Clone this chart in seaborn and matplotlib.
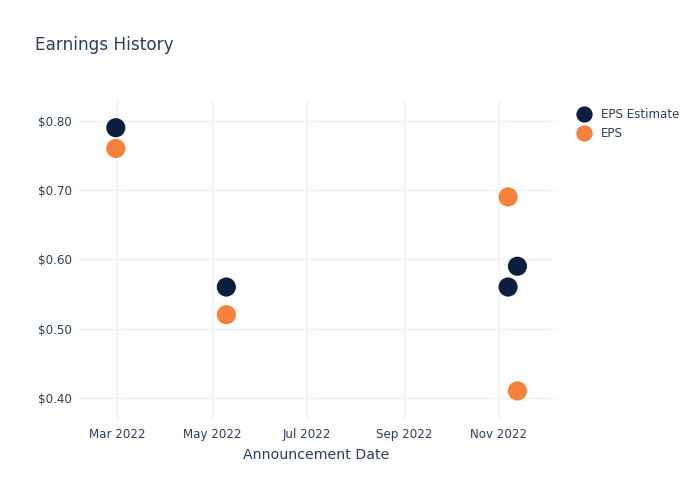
import pandas as pd
import matplotlib.pyplot as plt
import matplotlib.dates as mdates
import seaborn as sns

dates = ['2022-02-28', '2022-05-10', '2022-11-07', '2022-11-13']
eps_estimate = [0.79, 0.56, 0.56, 0.59]
eps_actual = [0.76, 0.52, 0.69, 0.41]
series_names = ['EPS Estimate', 'EPS']
colors = ['#0c1f3f', '#f7803a']

df = pd.concat([
    pd.DataFrame({'date': pd.to_datetime(dates), 'value': eps_estimate, 'series': series_names[0]}),
    pd.DataFrame({'date': pd.to_datetime(dates), 'value': eps_actual, 'series': series_names[1]}),
], ignore_index=True)

sns.set_style('white')
plt.rcParams['font.family'] = ['DejaVu Sans']
text_color = '#2a3f5f'
grid_color = '#eef1f8'

fig = plt.figure(figsize=(7, 5), dpi=100)
ax = fig.add_axes([0.1143, 0.16, 0.676, 0.64])

sns.scatterplot(data=df, x='date', y='value', hue='series', palette=colors,
                hue_order=series_names, s=190, edgecolor='none', ax=ax, zorder=3)

ax.set_xlim(pd.Timestamp('2022-02-05'), pd.Timestamp('2022-12-06'))
ax.set_ylim(0.368, 0.830)
ax.xaxis.set_major_locator(mdates.MonthLocator(bymonth=[3, 5, 7, 9, 11]))
ax.xaxis.set_major_formatter(mdates.DateFormatter('%b %Y'))
ax.set_yticks([0.4, 0.5, 0.6, 0.7, 0.8])
ax.set_yticklabels([f'${v:.2f}' for v in [0.4, 0.5, 0.6, 0.7, 0.8]])

ax.grid(True, color=grid_color, linewidth=1)
ax.set_axisbelow(True)
for sp in ax.spines.values():
    sp.set_visible(False)
ax.tick_params(length=0, labelsize=8.6, colors=text_color, pad=6)

ax.set_xlabel('Announcement Date', fontsize=10.2, color=text_color, labelpad=5)
ax.set_ylabel('')

fig.text(0.05, 0.91, 'Earnings History', fontsize=12.2, color=text_color, va='center')

leg = ax.legend(title=None, loc='upper left', bbox_to_anchor=(0.81, 0.794),
                bbox_transform=fig.transFigure, frameon=False, fontsize=8.6,
                markerscale=0.85, handletextpad=0.45, labelspacing=0.55, borderaxespad=0)
for t in leg.get_texts():
    t.set_color(text_color)

fig.savefig('out.png', dpi=100)
